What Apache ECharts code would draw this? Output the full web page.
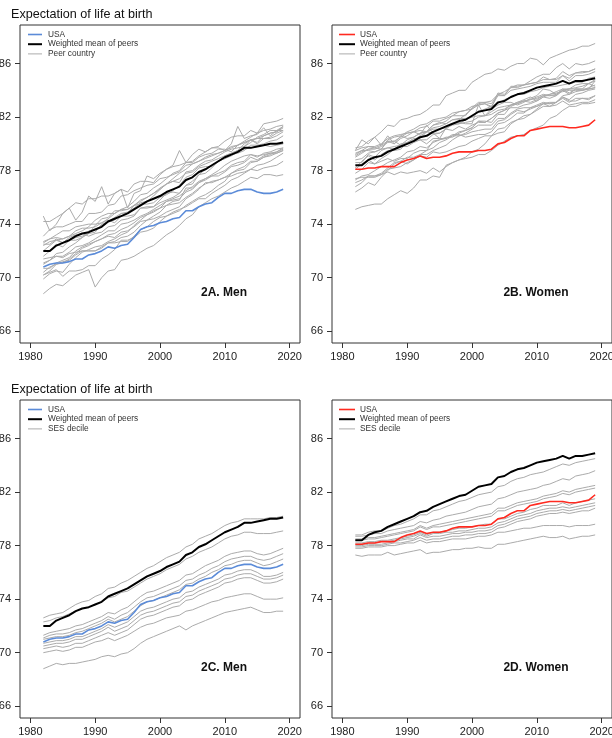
<!DOCTYPE html>
<html><head><meta charset="utf-8">
<script src="https://cdn.jsdelivr.net/npm/echarts@6/dist/echarts.min.js"></script>
<style>html,body{margin:0;padding:0;background:#fff}#c{width:612px;height:738px}</style>
</head><body><div id="c"></div><script>
// ---------- DATA ----------
const years = [1982,1983,1984,1985,1986,1987,1988,1989,1990,1991,1992,1993,1994,1995,1996,1997,1998,1999,2000,2001,2002,2003,2004,2005,2006,2007,2008,2009,2010,2011,2012,2013,2014,2015,2016,2017,2018,2019];
const xTicks = [1980,1990,2000,2010,2020];
const yTicks = [66,70,74,78,82,86];

const usaMen = [70.8,71.0,71.1,71.1,71.2,71.4,71.4,71.7,71.8,72.0,72.3,72.2,72.4,72.5,73.0,73.6,73.8,73.9,74.1,74.2,74.4,74.5,75.0,75.0,75.3,75.5,75.6,76.0,76.3,76.3,76.5,76.6,76.6,76.4,76.3,76.3,76.4,76.6];
const meanMen = [72.0,72.0,72.4,72.6,72.8,73.1,73.3,73.4,73.6,73.8,74.2,74.4,74.6,74.8,75.1,75.4,75.7,75.9,76.1,76.4,76.6,76.8,77.3,77.5,77.9,78.1,78.4,78.7,79.0,79.2,79.4,79.7,79.7,79.8,79.9,80.0,80.0,80.1];
const usaWomen = [78.1,78.1,78.2,78.2,78.3,78.3,78.3,78.6,78.8,78.9,79.1,78.9,79.0,79.0,79.1,79.3,79.4,79.4,79.4,79.5,79.5,79.6,80.0,80.1,80.4,80.6,80.6,81.0,81.1,81.2,81.3,81.3,81.3,81.2,81.2,81.3,81.4,81.8];
const meanWomen = [78.4,78.4,78.8,79.0,79.1,79.4,79.6,79.8,80.0,80.2,80.5,80.6,80.9,81.1,81.3,81.5,81.7,81.8,82.1,82.4,82.5,82.6,83.1,83.2,83.5,83.7,83.8,84.0,84.2,84.3,84.4,84.5,84.7,84.5,84.7,84.7,84.8,84.9];

// Peer countries, men
const menIceland = [74.6,73.5,74.0,74.8,75.2,74.3,74.9,76.1,75.7,76.8,75.5,76.3,76.6,75.2,76.3,76.5,77.6,77.4,77.8,78.1,78.4,79.5,78.6,79.2,79.6,79.4,79.7,79.7,79.5,80.0,81.3,80.4,80.6,80.7,81.2,80.6,81.0,81.0];
const menJapan = [74.2,74.2,74.5,74.8,75.2,75.6,75.5,75.9,75.9,76.1,76.1,76.3,76.6,76.4,77.0,77.2,77.2,77.1,77.7,78.1,78.3,78.4,78.6,78.6,79.0,79.2,79.3,79.6,79.6,79.4,79.9,80.2,80.5,80.8,81.0,81.1,81.3,81.4];
const menSwitzerland = [72.6,72.9,73.2,73.5,73.5,73.8,73.9,74.0,74.0,74.1,74.4,74.8,75.1,75.3,75.7,76.2,76.3,76.7,77.0,77.4,77.8,78.0,78.6,78.7,79.1,79.4,79.7,79.8,80.2,80.5,80.6,80.6,81.0,80.8,81.5,81.6,81.7,81.9];
const menSweden = [73.1,73.6,73.8,73.8,74.0,74.2,74.2,74.8,74.8,74.9,75.4,75.5,76.1,76.2,76.5,76.7,76.9,77.0,77.4,77.5,77.7,77.9,78.4,78.5,78.7,78.9,79.1,79.3,79.5,79.8,79.9,80.1,80.3,80.4,80.6,80.8,80.9,81.3];
const menNetherlands = [72.7,72.9,73.0,72.9,73.1,73.5,73.7,73.7,73.8,74.1,74.3,74.1,74.6,74.6,74.7,75.2,75.2,75.3,75.6,75.8,76.0,76.3,76.9,77.2,77.7,78.1,78.4,78.7,78.9,79.2,79.3,79.5,79.9,79.9,80.0,80.2,80.3,80.6];
const menNorway = [72.4,72.7,72.8,72.6,72.8,72.8,73.0,73.3,73.4,74.0,74.2,74.3,74.8,74.8,75.4,75.5,75.5,75.6,76.0,76.2,76.5,76.9,77.5,77.7,78.2,78.3,78.3,78.7,78.9,79.1,79.4,79.8,80.1,80.5,80.7,81.0,81.0,81.3];
const menAustralia = [71.6,72.0,72.5,72.3,72.8,73.0,73.1,73.3,73.9,74.4,74.5,75.0,75.0,75.1,75.4,75.7,76.0,76.3,76.6,77.0,77.4,77.8,78.1,78.5,78.7,79.0,79.2,79.3,79.5,79.7,79.9,80.1,80.3,80.4,80.4,80.5,80.8,81.0];
const menCanada = [72.0,72.4,72.8,72.9,73.1,73.3,73.5,73.8,74.3,74.6,74.8,74.8,75.1,75.1,75.4,75.8,76.0,76.3,76.7,77.0,77.2,77.4,77.8,77.9,78.3,78.5,78.7,78.9,79.1,79.3,79.5,79.6,79.7,79.8,79.9,79.8,79.9,80.0];
const menItaly = [71.0,71.3,71.8,71.9,72.3,72.6,73.0,73.5,73.6,73.9,74.2,74.5,74.8,74.9,75.2,75.6,75.7,76.1,76.6,77.0,77.2,77.1,77.9,78.0,78.4,78.7,78.8,79.1,79.4,79.6,79.7,79.8,80.3,80.1,80.6,80.8,80.9,81.2];
const menSpain = [72.5,72.5,72.9,72.6,73.0,73.2,73.3,73.1,73.3,73.4,73.8,73.9,74.3,74.4,74.6,75.2,75.3,75.3,75.8,76.3,76.4,76.3,76.9,77.0,77.7,77.8,78.2,78.7,79.1,79.3,79.5,80.0,80.3,80.0,80.4,80.4,80.6,80.9];
const menFrance = [70.7,70.7,71.1,71.3,71.5,72.0,72.3,72.5,72.7,72.9,73.2,73.3,73.6,73.8,74.1,74.5,74.7,74.9,75.2,75.4,75.7,75.8,76.7,76.7,77.1,77.4,77.6,77.8,78.0,78.4,78.6,78.7,79.2,79.0,79.3,79.4,79.6,79.7];
const menUK = [71.1,71.3,71.6,71.6,71.9,72.3,72.4,72.6,72.9,73.2,73.5,73.5,74.0,74.1,74.3,74.6,74.8,75.1,75.4,75.7,75.9,76.1,76.5,76.8,77.2,77.4,77.7,78.0,78.4,78.7,78.9,79.1,79.2,79.1,79.2,79.3,79.3,79.5];
const menAustria = [69.9,70.3,70.5,70.4,71.0,71.5,71.9,72.1,72.3,72.4,72.7,72.9,73.2,73.4,73.9,74.3,74.7,75.0,75.2,75.7,75.8,75.9,76.4,76.6,77.1,77.3,77.6,77.6,77.9,78.3,78.4,78.6,79.0,78.8,79.1,79.3,79.4,79.6];
const menGermany = [70.2,70.5,71.0,71.2,71.3,71.7,72.0,72.0,72.0,72.3,72.6,72.7,73.0,73.1,73.4,73.9,74.3,74.6,74.9,75.4,75.5,75.6,76.0,76.3,76.7,77.0,77.2,77.3,77.5,77.6,77.8,77.9,78.1,78.0,78.2,78.3,78.4,78.7];
const menDenmark = [71.4,71.5,71.6,71.5,71.8,71.9,72.0,72.0,72.0,72.2,72.6,72.6,72.7,72.7,73.1,73.6,73.8,74.2,74.5,74.6,74.8,75.0,75.4,75.7,76.0,76.2,76.5,76.9,77.2,77.8,78.1,78.3,78.7,78.7,79.0,79.1,79.3,79.5];
const menFinland = [70.2,70.4,70.6,70.1,70.5,70.5,70.6,70.9,70.9,71.4,71.7,72.1,72.8,72.8,73.0,73.4,73.5,73.7,74.2,74.6,74.9,75.1,75.3,75.6,75.9,75.9,76.3,76.6,76.9,77.3,77.5,77.8,78.1,78.4,78.5,78.7,79.0,79.3];
const menPortugal = [68.8,69.2,69.5,69.4,69.8,70.2,70.4,70.6,69.3,70.0,70.5,70.6,71.3,71.4,71.6,71.9,72.2,72.4,72.8,73.2,73.5,73.9,74.4,74.7,75.3,75.6,75.9,76.1,76.4,76.7,76.9,77.2,77.5,77.4,77.7,77.7,77.6,77.7];
const menBelgium = [70.4,70.8,71.0,71.1,71.4,71.8,72.2,72.4,72.7,72.9,73.1,73.0,73.4,73.5,73.8,74.2,74.3,74.4,74.6,74.9,75.1,75.3,75.9,76.2,76.6,77.1,77.1,77.3,77.5,77.8,78.0,78.1,78.6,78.7,79.0,79.2,79.4,79.7];

// Peer countries, women
const womenIceland = [79.5,80.3,80.0,80.5,79.9,80.6,80.0,80.4,80.6,80.9,80.7,81.4,80.8,80.4,81.2,81.5,81.6,81.5,81.5,82.9,82.1,82.6,82.9,83.1,83.1,82.9,83.1,83.4,83.6,84.1,84.0,83.7,84.1,83.8,84.1,84.1,84.5,84.3];
const womenJapan = [79.7,79.8,80.2,80.5,80.9,81.4,81.3,81.8,81.9,82.1,82.2,82.5,82.9,82.9,83.6,83.8,84.0,84.0,84.6,84.9,85.2,85.3,85.6,85.5,85.8,86.0,86.0,86.4,86.3,85.9,86.4,86.6,86.8,87.0,87.1,87.3,87.3,87.5];
const womenSwitzerland = [79.2,79.5,79.8,79.8,80.0,80.4,80.6,80.7,80.8,80.9,81.2,81.3,81.7,81.7,81.9,82.1,82.4,82.5,82.6,83.0,83.1,83.2,83.7,83.9,84.2,84.2,84.4,84.5,84.6,84.8,84.8,84.8,85.1,84.9,85.3,85.4,85.4,85.6];
const womenSweden = [79.1,79.4,79.6,79.7,79.9,80.2,80.0,80.6,80.4,80.5,80.8,80.9,81.4,81.6,81.5,81.8,81.9,81.9,82.0,82.1,82.1,82.4,82.7,82.8,82.9,83.1,83.2,83.3,83.5,83.7,83.6,83.7,84.0,84.1,84.1,84.1,84.1,84.7];
const womenNetherlands = [79.5,79.7,79.8,79.7,79.6,80.2,80.2,79.9,80.1,80.2,80.3,80.0,80.4,80.4,80.4,80.7,80.7,80.5,80.6,80.7,80.7,80.9,81.5,81.6,81.9,82.3,82.3,82.7,82.9,83.1,83.0,83.1,83.5,83.2,83.2,83.4,83.4,83.6];
const womenNorway = [79.3,79.5,79.5,79.4,79.6,79.7,79.6,79.8,79.8,80.1,80.3,80.3,80.7,80.8,81.1,81.0,81.3,81.1,81.4,81.6,81.6,81.9,82.3,82.5,82.7,82.7,82.9,83.0,83.2,83.5,83.4,83.6,84.0,84.1,84.2,84.3,84.5,84.7];
const womenAustralia = [78.2,78.7,79.1,78.8,79.2,79.5,79.5,79.6,80.1,80.4,80.4,80.9,80.8,80.8,81.1,81.5,81.5,81.8,82.0,82.4,82.6,82.8,83.0,83.3,83.5,83.7,83.7,83.9,84.0,84.2,84.3,84.3,84.4,84.5,84.6,84.6,84.9,85.0];
const womenCanada = [79.0,79.3,79.6,79.6,79.8,80.1,80.2,80.5,80.8,80.9,81.0,80.9,81.1,81.1,81.2,81.4,81.5,81.6,81.7,82.0,82.1,82.2,82.5,82.6,82.9,83.0,83.2,83.3,83.4,83.6,83.7,83.8,83.9,84.0,84.0,84.0,84.1,84.2];
const womenItaly = [77.8,78.1,78.6,78.5,78.9,79.2,79.6,80.0,80.1,80.3,80.6,80.9,81.2,81.3,81.5,81.8,81.8,82.2,82.6,82.9,83.0,82.8,83.6,83.6,84.0,84.1,84.2,84.3,84.5,84.6,84.6,84.6,85.1,84.7,85.1,85.1,85.2,85.4];
const womenSpain = [78.6,78.6,79.2,79.0,79.5,79.7,79.8,79.9,80.3,80.5,80.8,80.9,81.4,81.5,81.7,82.1,82.1,82.1,82.7,83.1,83.1,83.0,83.7,83.6,84.3,84.3,84.4,84.7,85.0,85.2,85.2,85.7,86.0,85.6,86.0,85.9,86.0,86.2];
const womenFrance = [78.8,78.9,79.3,79.4,79.6,80.3,80.5,80.6,80.9,81.1,81.4,81.5,81.8,81.9,82.0,82.3,82.4,82.5,82.8,82.9,83.0,82.7,83.8,83.7,84.2,84.4,84.4,84.5,84.6,85.0,84.8,84.9,85.4,85.1,85.3,85.3,85.4,85.6];
const womenUK = [77.1,77.3,77.6,77.6,77.7,78.1,78.2,78.3,78.6,78.8,79.1,79.0,79.4,79.3,79.4,79.6,79.8,79.9,80.2,80.4,80.6,80.6,81.1,81.2,81.6,81.8,81.9,82.2,82.6,83.0,82.8,82.9,83.2,82.9,83.0,83.1,83.1,83.3];
const womenAustria = [76.4,76.7,77.1,76.9,77.5,78.0,78.5,78.7,79.0,79.0,79.2,79.5,79.7,80.1,80.3,80.6,80.9,81.0,81.2,81.7,81.7,81.6,82.2,82.2,82.8,83.0,83.2,83.1,83.3,83.6,83.6,83.6,84.0,83.7,84.1,84.0,84.1,84.2];
const womenGermany = [76.8,77.1,77.6,77.6,77.8,78.2,78.6,78.7,78.5,78.8,79.2,79.2,79.5,79.7,79.9,80.3,80.6,80.8,81.1,81.4,81.4,81.4,81.9,81.9,82.3,82.6,82.7,82.7,82.8,83.0,83.1,83.1,83.4,83.1,83.4,83.4,83.3,83.6];
const womenDenmark = [77.4,77.5,77.5,77.5,77.7,77.9,77.7,77.9,77.8,77.9,78.0,77.8,78.2,77.9,78.3,78.6,78.8,78.9,79.0,79.2,79.2,79.5,79.9,80.2,80.5,80.6,80.7,81.0,81.2,81.4,81.9,82.1,82.5,82.8,82.8,83.0,83.0,83.1];
const womenFinland = [78.1,78.5,78.8,78.5,78.7,78.9,78.7,78.9,78.9,79.3,79.5,79.5,80.2,80.3,80.5,80.5,80.8,81.0,81.2,81.7,81.6,81.9,82.3,82.5,82.9,83.1,83.3,83.5,83.2,83.5,83.7,83.9,84.1,84.1,84.4,84.5,84.5,84.8];
const womenPortugal = [75.1,75.3,75.4,75.5,75.5,75.9,76.2,76.5,76.3,76.7,77.3,77.3,77.6,77.5,78.4,78.6,78.8,79.0,79.4,79.6,80.0,80.6,80.8,80.9,81.5,81.8,82.1,82.2,82.5,82.8,82.8,83.1,83.6,83.7,83.9,84.0,84.2,84.4];
const womenBelgium = [77.3,77.6,77.7,78.0,78.3,78.6,78.8,79.0,79.4,79.5,79.8,79.7,80.1,80.3,80.4,80.6,80.6,80.7,80.9,81.0,81.1,81.1,81.7,81.8,82.2,82.5,82.4,82.6,82.8,83.0,83.0,83.1,83.5,83.3,83.7,83.8,84.0,84.1];

// US SES deciles, men
const menSES1 = [72.6,72.8,72.9,73.0,73.3,73.6,73.8,73.9,74.2,74.4,74.8,74.9,75.2,75.4,75.7,76.0,76.3,76.5,76.8,77.1,77.3,77.5,77.9,78.1,78.5,78.7,78.9,79.2,79.5,79.7,79.8,80.0,80.0,80.0,80.0,80.1,80.1,80.2];
const menSES2 = [72.3,72.4,72.6,72.7,72.9,73.1,73.3,73.4,73.6,73.8,74.1,74.2,74.5,74.6,74.9,75.2,75.5,75.7,75.9,76.2,76.4,76.6,77.0,77.2,77.5,77.7,77.9,78.2,78.5,78.7,78.8,79.0,79.0,78.9,78.9,78.9,79.0,79.1];
const menSES3 = [71.3,71.5,71.6,71.7,71.8,72.0,72.1,72.3,72.5,72.7,73.0,72.9,73.2,73.4,73.8,74.2,74.5,74.6,74.8,75.0,75.2,75.4,75.8,75.9,76.2,76.5,76.7,76.9,77.2,77.4,77.5,77.6,77.6,77.4,77.3,77.4,77.6,77.8];
const menSES4 = [71.1,71.3,71.4,71.4,71.5,71.7,71.8,72.0,72.2,72.4,72.7,72.5,72.8,73.0,73.4,73.8,74.1,74.2,74.4,74.6,74.8,75.0,75.4,75.5,75.8,76.0,76.3,76.5,76.8,77.0,77.1,77.2,77.2,77.0,76.9,77.0,77.2,77.4];
const menSES5 = [71.0,71.1,71.2,71.2,71.3,71.5,71.6,71.8,72.0,72.2,72.5,72.3,72.5,72.7,73.1,73.5,73.8,73.9,74.1,74.3,74.5,74.7,75.1,75.2,75.5,75.7,76.0,76.2,76.5,76.6,76.8,76.9,76.9,76.7,76.5,76.6,76.8,77.0];
const menSES6 = [70.7,70.8,70.9,70.9,71.0,71.2,71.2,71.4,71.6,71.8,72.1,71.9,72.1,72.3,72.7,73.1,73.3,73.4,73.6,73.8,74.0,74.1,74.5,74.6,74.9,75.1,75.3,75.5,75.8,75.9,76.1,76.2,76.2,76.0,75.7,75.7,75.8,76.0];
const menSES7 = [70.5,70.6,70.7,70.7,70.8,71.0,71.0,71.2,71.4,71.6,71.9,71.6,71.8,72.0,72.4,72.8,73.0,73.1,73.3,73.5,73.7,73.8,74.2,74.3,74.6,74.8,75.0,75.2,75.5,75.6,75.8,75.9,75.9,75.7,75.5,75.5,75.6,75.8];
const menSES8 = [70.3,70.4,70.5,70.4,70.5,70.7,70.7,70.9,71.1,71.3,71.5,71.3,71.5,71.7,72.1,72.5,72.7,72.8,73.0,73.2,73.4,73.5,73.9,74.0,74.3,74.5,74.7,74.9,75.2,75.3,75.5,75.6,75.6,75.4,75.2,75.2,75.3,75.5];
const menSES9 = [70.0,70.1,70.2,70.1,70.2,70.4,70.4,70.6,70.8,70.9,71.1,70.9,71.1,71.3,71.6,71.9,72.1,72.2,72.4,72.6,72.7,72.8,73.1,73.2,73.4,73.6,73.8,73.9,74.1,74.2,74.3,74.4,74.4,74.2,74.0,74.0,74.0,74.1];
const menSES10 = [68.8,69.0,69.2,69.1,69.2,69.2,69.3,69.4,69.5,69.7,69.8,69.7,69.9,70.0,70.3,70.7,71.0,71.2,71.4,71.6,71.8,72.0,71.7,72.0,72.2,72.4,72.6,72.8,73.0,73.1,73.2,73.3,73.4,73.2,73.0,73.0,73.1,73.1];

// US SES deciles, women
const womenSES1 = [78.8,78.8,79.0,79.1,79.1,79.3,79.5,79.6,79.8,80.0,80.3,80.3,80.6,80.7,80.9,81.1,81.3,81.4,81.6,81.8,81.9,82.0,82.4,82.5,82.8,83.0,83.1,83.3,83.4,83.5,83.7,83.9,84.1,84.0,84.2,84.3,84.4,84.5];
const womenSES2 = [78.7,78.7,78.8,78.9,78.9,79.1,79.2,79.3,79.4,79.5,79.8,79.7,79.9,80.0,80.2,80.3,80.4,80.5,80.7,80.9,81.0,81.1,81.5,81.6,81.8,82.0,82.1,82.2,82.3,82.5,82.6,82.8,83.0,82.9,83.2,83.3,83.4,83.6];
const womenSES3 = [78.5,78.5,78.6,78.6,78.7,78.8,78.9,79.0,79.1,79.2,79.5,79.3,79.5,79.6,79.7,79.8,79.9,80.0,80.1,80.2,80.3,80.4,80.8,80.8,81.0,81.2,81.3,81.4,81.5,81.7,81.8,81.9,82.1,82.0,82.2,82.3,82.4,82.5];
const womenSES4 = [78.4,78.4,78.5,78.5,78.6,78.7,78.8,78.9,79.0,79.1,79.4,79.2,79.4,79.4,79.5,79.6,79.7,79.8,79.9,80.0,80.1,80.2,80.6,80.6,80.8,81.0,81.1,81.2,81.3,81.5,81.6,81.7,81.9,81.8,82.0,82.1,82.2,82.3];
const womenSES5 = [78.2,78.2,78.3,78.3,78.4,78.4,78.5,78.6,78.7,78.8,79.0,78.8,79.0,79.0,79.1,79.2,79.3,79.3,79.4,79.5,79.6,79.6,80.0,80.0,80.2,80.4,80.5,80.7,80.8,81.0,81.0,81.0,81.2,81.0,81.2,81.3,81.4,81.5];
const womenSES6 = [78.1,78.1,78.2,78.2,78.3,78.3,78.4,78.5,78.6,78.7,78.9,78.7,78.9,78.9,79.0,79.0,79.1,79.1,79.2,79.3,79.3,79.4,79.7,79.8,80.0,80.2,80.3,80.4,80.6,80.7,80.8,80.8,80.9,80.8,80.9,81.0,81.1,81.2];
const womenSES7 = [78.0,78.0,78.1,78.1,78.1,78.2,78.3,78.4,78.5,78.5,78.8,78.6,78.7,78.7,78.8,78.9,78.9,79.0,79.0,79.1,79.1,79.2,79.5,79.6,79.8,80.0,80.1,80.2,80.4,80.5,80.6,80.6,80.7,80.6,80.7,80.8,80.9,81.0];
const womenSES8 = [77.9,77.9,78.0,78.0,78.0,78.1,78.2,78.2,78.3,78.4,78.6,78.4,78.5,78.5,78.6,78.7,78.7,78.8,78.8,78.9,78.9,79.0,79.3,79.4,79.6,79.8,79.9,80.0,80.2,80.3,80.4,80.4,80.5,80.4,80.5,80.6,80.6,80.8];
const womenSES9 = [77.8,77.8,77.9,77.9,77.9,78.0,78.0,78.1,78.2,78.2,78.4,78.2,78.3,78.3,78.4,78.5,78.5,78.5,78.6,78.7,78.7,78.8,79.0,79.0,79.1,79.2,79.3,79.3,79.4,79.5,79.5,79.5,79.5,79.4,79.5,79.5,79.5,79.6];
const womenSES10 = [77.3,77.2,77.3,77.3,77.3,77.5,77.3,77.4,77.5,77.6,77.7,77.4,77.5,77.5,77.6,77.7,77.7,77.8,77.8,77.9,77.8,77.8,78.1,78.1,78.2,78.3,78.4,78.5,78.6,78.7,78.6,78.6,78.7,78.5,78.6,78.7,78.7,78.8];

const peersMen = [menIceland,menJapan,menSwitzerland,menSweden,menNetherlands,menNorway,menAustralia,menCanada,menItaly,menSpain,menFrance,menUK,menAustria,menGermany,menDenmark,menFinland,menPortugal,menBelgium];
const peersWomen = [womenIceland,womenJapan,womenSwitzerland,womenSweden,womenNetherlands,womenNorway,womenAustralia,womenCanada,womenItaly,womenSpain,womenFrance,womenUK,womenAustria,womenGermany,womenDenmark,womenFinland,womenPortugal,womenBelgium];
const sesMen = [menSES1,menSES2,menSES3,menSES4,menSES5,menSES6,menSES7,menSES8,menSES9,menSES10];
const sesWomen = [womenSES1,womenSES2,womenSES3,womenSES4,womenSES5,womenSES6,womenSES7,womenSES8,womenSES9,womenSES10];

// ---------- CHART ----------
const FONT = 'Liberation Sans, Arial, Helvetica, sans-serif';
const BLUE = '#5b8bd8', RED = '#ff2a20', GREY = '#ababab';
const panels = [
  {left:20, top:25, usa:usaMen, mean:meanMen, others:peersMen, color:BLUE, label:'2A. Men', otherName:'Peer country'},
  {left:332, top:25, usa:usaWomen, mean:meanWomen, others:peersWomen, color:RED, label:'2B. Women', otherName:'Peer country'},
  {left:20, top:400, usa:usaMen, mean:meanMen, others:sesMen, color:BLUE, label:'2C. Men', otherName:'SES decile'},
  {left:332, top:400, usa:usaWomen, mean:meanWomen, others:sesWomen, color:RED, label:'2D. Women', otherName:'SES decile'}
];
const W = 280, H = 318;
const pts = arr => years.map((y,i)=>[y,arr[i]]);
const plain = v => String(v);
const grid=[], xAxis=[], yAxis=[], series=[], graphic=[];
panels.forEach((p,k)=>{
  grid.push({left:p.left, top:p.top, width:W, height:H, show:true, borderColor:'#333', borderWidth:1, backgroundColor:'transparent', containLabel:false, outerBoundsMode:'none'});
  xAxis.push({type:'value', gridIndex:k, min:1978.4, max:2021.6,
    axisLine:{show:false}, splitLine:{show:false},
    axisTick:{show:true, length:5, lineStyle:{color:'#333'}, customValues:xTicks},
    axisLabel:{customValues:xTicks, formatter:plain, margin:8, fontSize:11, color:'#222', fontFamily:FONT}});
  yAxis.push({type:'value', gridIndex:k, min:65.12, max:88.88,
    axisLine:{show:false}, splitLine:{show:false},
    axisTick:{show:true, length:5, lineStyle:{color:'#333'}, customValues:yTicks},
    axisLabel:{customValues:yTicks, formatter:plain, margin:9, fontSize:11, color:'#222', fontFamily:FONT}});
  p.others.forEach(arr=>series.push({type:'line', name:p.otherName, xAxisIndex:k, yAxisIndex:k, data:pts(arr), showSymbol:false, symbol:'none', silent:true, z:2, lineStyle:{color:GREY, width:1}}));
  series.push({type:'line', name:'Weighted mean of peers', xAxisIndex:k, yAxisIndex:k, data:pts(p.mean), symbol:'none', silent:true, z:3, lineStyle:{color:'#000', width:2}});
  series.push({type:'line', name:'USA', xAxisIndex:k, yAxisIndex:k, data:pts(p.usa), symbol:'none', silent:true, z:4, lineStyle:{color:p.color, width:1.6}});
  // legend
  const lx0 = p.left===20 ? 28 : 339, lx1 = p.left===20 ? 42 : 355, tx = p.left===20 ? 48 : 360;
  const rows = [['USA', p.color, 1.6], ['Weighted mean of peers', '#000', 2], [p.otherName, GREY, 1]];
  rows.forEach((r,j)=>{
    const y = p.top + 9.5 + j*9.7;
    graphic.push({type:'line', shape:{x1:lx0, y1:y, x2:lx1, y2:y}, style:{stroke:r[1], lineWidth:r[2]}, z:10});
    graphic.push({type:'text', x:tx, y:y, style:{text:r[0], font:'8.3px '+FONT, fill:'#333', textVerticalAlign:'middle', verticalAlign:'middle'}, z:10});
  });
  graphic.push({type:'text', x:p.left + 204, y:p.top + 268, style:{text:p.label, font:'bold 12px '+FONT, fill:'#111', textAlign:'center', align:'center', textVerticalAlign:'middle', verticalAlign:'middle'}, z:10});
});
graphic.push({type:'text', x:11, y:15, style:{text:'Expectation of life at birth', font:'12.6px '+FONT, fill:'#111', verticalAlign:'middle', textVerticalAlign:'middle'}});
graphic.push({type:'text', x:11, y:390, style:{text:'Expectation of life at birth', font:'12.6px '+FONT, fill:'#111', verticalAlign:'middle', textVerticalAlign:'middle'}});

const chart = echarts.init(document.getElementById('c'), null, {renderer:'canvas'});
chart.setOption({animation:false, backgroundColor:'#fff', grid, xAxis, yAxis, series, graphic});
</script></body></html>
